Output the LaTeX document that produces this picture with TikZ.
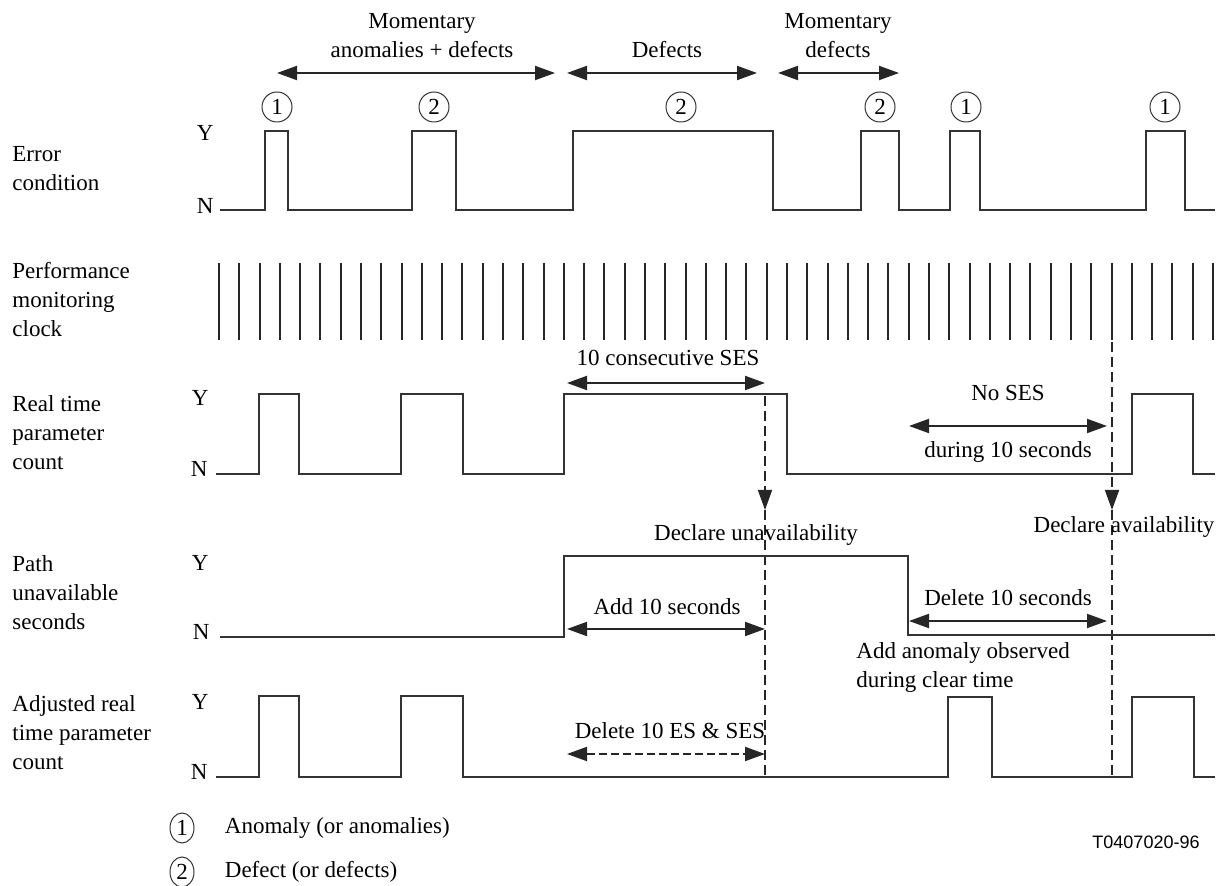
\documentclass[tikz,border=0pt]{standalone}
\usepackage{fontspec}
\setmainfont{Liberation Serif}
\newfontfamily\codefont{Liberation Sans}
\usetikzlibrary{arrows.meta,positioning,shapes.geometric}

\begin{document}
\begin{tikzpicture}[x=0.5pt, y=-0.5pt,
        every node/.style={font=\fontsize{11.5}{14.5}\selectfont, inner sep=1pt},
        rowlabel/.style={anchor=west, align=left},
        level/.style={anchor=east},
        note/.style={align=center},
        sig/.style={draw=black!80, line width=0.6pt},
        clk/.style={draw=black!85, line width=1pt},
        span/.style={{Triangle[length=10pt,width=7pt]}-{Triangle[length=10pt,width=7pt]}, line width=1pt, black!85},
        dspan/.style={span, dash pattern=on 4pt off 2pt},
        vdash/.style={draw=black!85, line width=0.8pt, dash pattern=on 5pt off 2.5pt},
        darr/.style={vdash, -{Triangle[length=10pt,width=7pt]}},
        num/.style={circle, draw=black!80, line width=0.5pt, minimum size=15pt, inner sep=0pt},
        key/.style={ellipse, draw=black!80, line width=0.5pt, minimum width=12pt, minimum height=15pt, inner sep=0pt}
    ]
        \useasboundingbox (0,0) rectangle (1219,886);

        % Row labels
        \node[rowlabel] (lerr) at (10,169) {Error\\condition};
        \node[rowlabel] (lclk) at (10,300) {Performance\\monitoring\\clock};
        \node[rowlabel] (lrt) at (10,433) {Real time\\parameter\\count};
        \node[rowlabel] (lpus) at (10,593) {Path\\unavailable\\seconds};
        \node[rowlabel] (ladj) at (10,733) {Adjusted real\\time parameter\\count};

        % Y / N levels
        \node[level] (y1) at (216,133) {Y};
        \node[level] (n1) at (216,206) {N};
        \node[level] (y3) at (211,398) {Y};
        \node[level] (n3) at (210,469) {N};
        \node[level] (y4) at (211,563) {Y};
        \node[level] (n4) at (212,632) {N};
        \node[level] (y5) at (211,702) {Y};
        \node[level] (n5) at (210,772) {N};

        % Error condition
        \draw[sig] (220,210) -| (265,131) -| (288,210) -| (412,131) -| (456,210)
            -| (573,131) -| (773,210) -| (861,131) -| (899,210) -| (950,131)
            -| (980,210) -| (1146,131) -| (1185,210) -- (1215,210);
        \node[num] (c1) at (277,107) {1};
        \node[num] (c2) at (434,107) {2};
        \node[num] (c3) at (681,107) {2};
        \node[num] (c4) at (880,107) {2};
        \node[num] (c5) at (966,107) {1};
        \node[num] (c6) at (1165,107) {1};

        % Periods above the error condition
        \coordinate (ma1) at (277,73);
        \coordinate (ma2) at (555,73);
        \coordinate (df1) at (567,73);
        \coordinate (df2) at (757,73);
        \coordinate (md1) at (778,73);
        \coordinate (md2) at (899,73);
        \draw[span] (ma1) -- (ma2);
        \draw[span] (df1) -- (df2);
        \draw[span] (md1) -- (md2);
        \node[note] (tma) at (422,36) {Momentary\\anomalies + defects};
        \node[note] (tdf) at (667,50) {Defects};
        \node[note] (tmd) at (838,36) {Momentary\\defects};

        % Performance monitoring clock
        \foreach \i in {0,...,49}
            \draw[clk] ({219+\i*20.286},263) -- ++(0,77);

        % Real time parameter count
        \draw[sig] (216,474) -| (259,394) -| (299,474) -| (401,394) -| (463,474)
            -| (564,394) -| (787,474) -| (1132,394) -| (1193,474) -- (1215,474);
        \coordinate (cs1) at (567,383);
        \coordinate (cs2) at (765,383);
        \draw[span] (cs1) -- (cs2);
        \node[note] (tcs) at (668,358) {10 consecutive SES};
        \coordinate (ns1) at (909,426);
        \coordinate (ns2) at (1107,426);
        \draw[span] (ns1) -- (ns2);
        \node[note] (tns) at (1008,393) {No SES};
        \node[note] (tdur) at (1008,452) {during 10 seconds};

        % Declarations
        \coordinate (du0) at (765,396);
        \coordinate (du1) at (765,510);
        \coordinate (du2) at (765,777);
        \coordinate (da0) at (1112,342);
        \coordinate (da1) at (1112,510);
        \coordinate (da2) at (1112,777);
        \draw[darr] (du0) -- (du1);
        \draw[vdash] (du1) -- (du2);
        \draw[darr] (da0) -- (da1);
        \draw[vdash] (da1) -- (da2);
        \node[note] (tdu) at (756,535) {Declare unavailability};
        \node[note] (tda) at (1124,527) {Declare availability};

        % Path unavailable seconds
        \draw[sig] (220,637) -| (564,556) -| (908,635) -- (1215,635);
        \coordinate (as1) at (567,629);
        \coordinate (as2) at (765,629);
        \draw[span] (as1) -- (as2);
        \node[note] (tas) at (667,607) {Add 10 seconds};
        \coordinate (ds1) at (909,621);
        \coordinate (ds2) at (1107,621);
        \draw[span] (ds1) -- (ds2);
        \node[note] (tds) at (1008,598) {Delete 10 seconds};
        \node[rowlabel] (tao) at (854,668) {Add anomaly observed\\during clear time};

        % Adjusted real time parameter count
        \draw[sig] (216,777) -| (259,696) -| (299,777) -| (401,696) -| (463,777)
            -| (948,697) -| (992,777) -| (1132,697) -| (1194,777) -- (1215,777);
        \coordinate (de1) at (567,754);
        \coordinate (de2) at (765,754);
        \draw[dspan] (de1) -- (de2);
        \node[note] (tde) at (670,731) {Delete 10 ES \& SES};

        % Legend
        \node[key] (k1) at (182,828) {1};
        \node[key] (k2) at (182,872) {2};
        \node[rowlabel, right=14pt of k1] (tk1) {Anomaly (or anomalies)};
        \node[rowlabel, right=14pt of k2] (tk2) {Defect (or defects)};
        \node[font=\codefont\fontsize{9}{11}\selectfont] (fig) at (1146,842) {T0407020-96};
    \end{tikzpicture}
\end{document}
